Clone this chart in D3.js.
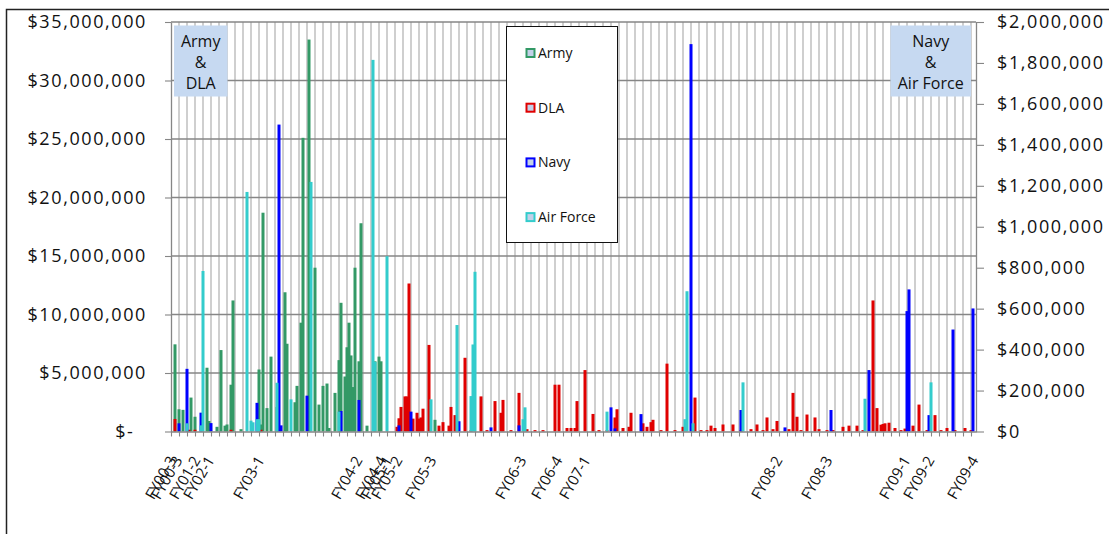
<!DOCTYPE html>
<html><head><meta charset="utf-8">
<script src="https://cdn.jsdelivr.net/npm/d3@7"></script>
<style>
html,body{margin:0;padding:0;background:#fff;}
svg{display:block;font-family:"Open Sans",sans-serif;}
</style></head><body>
<svg id="chart" width="1109" height="534"></svg>
<script>
// ---- data (period index along the category axis, value) ----
// Army and DLA in $ millions (left axis); Navy and Air Force in $ thousands (right axis)
const army = [[2,7.45],[4,1.9],[6,1.85],[10,2.9],[12,1.26],[18,5.45],[19,0.9],[23,0.4],[25,6.96],[27,0.5],[28,0.6],[30,4.0],[31,11.2],[35,0.2],[44,5.3],[45,0.6],[46,18.7],[48,2.0],[50,6.4],[53,2.1],[57,11.9],[58,7.5],[62,2.5],[63,3.9],[65,9.3],[66,25.1],[69,33.5],[72,14.0],[74,2.3],[76,3.9],[78,4.1],[79,0.3],[82,3.3],[84,6.1],[85,11.0],[87,4.7],[88,7.2],[89,9.3],[90,6.5],[91,3.8],[92,14.0],[94,6.0],[95,17.8],[98,0.5],[102,6.0],[104,6.4],[105,6.0],[132,1.0]];
const dla = [[2,1.07],[9,0.15],[12,0.15],[30,0.15],[45,0.15],[113,0.4],[114,1.13],[115,2.1],[117,3.0],[118,3.0],[119,12.65],[121,1.1],[123,1.6],[124,1.1],[125,1.2],[126,1.95],[129,7.4],[134,0.5],[136,0.8],[139,0.5],[140,2.1],[142,1.4],[147,6.3],[150,0.12],[155,3.0],[158,0.12],[162,2.6],[165,1.6],[166,2.7],[170,0.12],[174,3.3],[178,0.2],[182,0.12],[186,0.12],[192,4.0],[194,4.0],[198,0.3],[200,0.3],[202,0.3],[203,2.6],[207,5.25],[211,1.5],[214,0.12],[218,0.12],[222,1.2],[223,1.9],[226,0.3],[229,0.4],[230,1.6],[236,0.7],[238,0.4],[240,0.8],[241,1.0],[245,0.12],[248,5.8],[252,0.12],[256,0.4],[262,2.9],[265,0.12],[268,0.12],[270,0.5],[272,0.3],[276,0.6],[281,0.6],[285,0.12],[290,0.2],[293,0.6],[296,0.12],[298,1.2],[301,0.2],[303,0.9],[309,0.2],[311,3.3],[313,1.26],[315,0.12],[318,1.45],[322,1.2],[324,0.2],[328,0.12],[331,0.12],[336,0.4],[339,0.5],[343,0.5],[346,0.12],[351,11.2],[353,2.0],[355,0.58],[356,0.64],[357,0.7],[359,0.75],[362,0.3],[365,0.12],[367,0.25],[371,0.5],[374,2.3],[378,0.12],[382,1.4],[385,0.12],[388,0.3],[392,0.12],[397,0.3],[400,0.12]];
const navy = [[4,40],[8,306],[15,92],[20,41],[43,140],[54,1499],[55,30],[68,175],[85,100],[94,154],[114,30],[120,97],[144,50],[160,20],[174,30],[220,118],[222,15],[235,85],[260,1892],[285,105],[307,20],[330,105],[349,300],[368,588],[369,694],[379,80],[391,498],[401,601]];
const airForce = [[8,40],[15,30],[16,784],[38,1170],[40,53],[41,45],[43,60],[44,60],[53,238],[60,157],[70,1219],[84,97],[101,1815],[102,340],[108,856],[130,157],[143,520],[150,173],[151,425],[152,780],[176,60],[177,118],[218,97],[257,60],[258,685],[261,40],[286,240],[347,160],[380,240]];

const xLabels = [[3,"FY00-3"],[6,"FY00-3"],[15,"FY01-2"],[22,"FY02-1"],[47,"FY03-1"],[96,"FY04-2"],[108,"FY04-4"],[111,"FY05-1"],[116,"FY05-2"],[133,"FY05-3"],[178,"FY06-3"],[196,"FY06-4"],[210,"FY07-1"],[306,"FY08-2"],[331,"FY08-3"],[370,"FY09-1"],[382,"FY09-2"],[404,"FY09-4"]];
const leftTicksM = [0,5,10,15,20,25,30,35];
const rightTicksK = [0,200,400,600,800,1000,1200,1400,1600,1800,2000];
const seriesNames = ["Army","DLA","Navy","Air Force"];
const periodCount = 402.5;

// ---- layout / style ----
const colors = {"Army":"#339966","DLA":"#e00000","Navy":"#0000ff","Air Force":"#33cccc"};
const M = {left:171, right:976, top:22, bottom:431.5};
const svg = d3.select("#chart");
svg.append("rect").attr("width",1109).attr("height",534).attr("fill","#fff");
svg.append("rect").attr("x",6.5).attr("y",9.5).attr("width",1200).attr("height",600)
   .attr("fill","none").attr("stroke","#222").attr("stroke-width",1.5);

const x = d3.scaleLinear().domain([0, periodCount]).range([M.left, M.right]);
const yL = d3.scaleLinear().domain([0, 35e6]).range([M.bottom, M.top]);
const yR = d3.scaleLinear().domain([0, 2e6]).range([M.bottom, M.top]);
const barW = x(1.5) - x(0);

// vertical gridlines
const gridPeriods = d3.range(4, 401, 4);
svg.append("g").selectAll("line").data(gridPeriods).join("line")
  .attr("x1", d=>x(d)).attr("x2", d=>x(d)).attr("y1", M.top).attr("y2", M.bottom)
  .attr("stroke","#a8a8a8").attr("stroke-width",1.1);
// horizontal gridlines
svg.append("g").selectAll("line").data(leftTicksM.filter(d=>d>0)).join("line")
  .attr("x1", M.left).attr("x2", M.right).attr("y1", d=>yL(d*1e6)).attr("y2", d=>yL(d*1e6))
  .attr("stroke","#868686").attr("stroke-width",1.3);

// bars
function drawBars(data, scale, mult, color){
  svg.append("g").selectAll("rect").data(data).join("rect")
    .attr("x", d=>x(d[0]) - barW/2).attr("width", barW)
    .attr("y", d=>scale(d[1]*mult)).attr("height", d=>Math.max(0, scale(0)-scale(d[1]*mult)))
    .attr("fill", color);
}
drawBars(army, yL, 1e6, colors["Army"]);
drawBars(dla, yL, 1e6, colors["DLA"]);
drawBars(navy, yR, 1e3, colors["Navy"]);
drawBars(airForce, yR, 1e3, colors["Air Force"]);

// axes
const axisColor = "#868686";
const leftFmt = v => v === 0 ? "$-\u00a0\u00a0" : d3.format("$,")(v);
const gL = svg.append("g").attr("transform",`translate(${M.left},0)`)
  .call(d3.axisLeft(yL).tickValues(leftTicksM.map(d=>d*1e6)).tickFormat(leftFmt).tickSize(6).tickSizeOuter(0).tickPadding(18));
const gR = svg.append("g").attr("transform",`translate(${M.right},0)`)
  .call(d3.axisRight(yR).tickValues(rightTicksK.map(d=>d*1e3)).tickFormat(d3.format("$,")).tickSize(8).tickSizeOuter(0).tickPadding(13));
const gB = svg.append("g").attr("transform",`translate(0,${M.bottom})`)
  .call(d3.axisBottom(x).tickValues(d3.range(0,401,4)).tickFormat("").tickSize(5).tickSizeOuter(0));
[gL,gR,gB].forEach(g=>{
  g.select(".domain").attr("stroke",axisColor).attr("stroke-width",1.3);
  g.selectAll(".tick line").attr("stroke",axisColor).attr("stroke-width",1.1);
  g.selectAll("text").attr("font-family","'Open Sans',sans-serif").attr("font-size",18)
    .attr("letter-spacing","1.6px").attr("fill","#111");
});

// category labels
svg.append("g").selectAll("text").data(xLabels).join("text")
  .attr("transform", d=>`translate(${x(d[0])},460) rotate(-60)`)
  .attr("text-anchor","end").attr("font-size",15).attr("fill","#111").text(d=>d[1]);

// axis captions (boxes)
function captionBox(cx, lines, bx, bw){
  svg.append("rect").attr("x",bx).attr("y",25.5).attr("width",bw).attr("height",71)
    .attr("fill","#c6d9f1");
  svg.append("g").selectAll("text").data(lines).join("text")
    .attr("x",cx).attr("y",(d,i)=>41.5+i*21).attr("dy","0.35em")
    .attr("text-anchor","middle").attr("font-size",16).attr("fill","#111").text(d=>d);
}
captionBox(200.7, ["Army","&","DLA"], 174, 53.5);
captionBox(930.7, ["Navy","&","Air Force"], 890.5, 80.5);

// legend
const lg = svg.append("g");
lg.append("rect").attr("x",506.5).attr("y",26.5).attr("width",111).attr("height",216)
  .attr("fill","#fff").attr("stroke","#111").attr("stroke-width",1);
const li = lg.selectAll("g").data(seriesNames).join("g")
  .attr("transform",(d,i)=>`translate(0,${53+i*54.7})`);
li.append("rect").attr("x",526.5).attr("y",-4).attr("width",8).attr("height",8)
  .attr("fill","#c3d1e8").attr("stroke",d=>colors[d]).attr("stroke-width",2);
li.append("text").attr("x",538).attr("dy","0.35em").attr("font-size",14).attr("fill","#111").text(d=>d);
</script>
</body></html>
